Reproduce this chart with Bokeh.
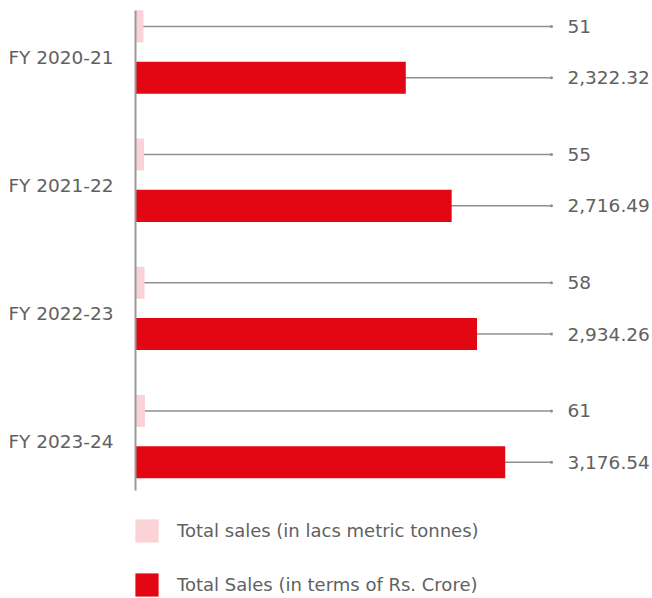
from bokeh.plotting import figure
from bokeh.models import Range1d, FixedTicker, Legend, LegendItem, CustomJSTickFormatter
from bokeh.core.properties import value
from bokeh.embed import file_html
from bokeh.resources import INLINE

years = ["FY 2020-21", "FY 2021-22", "FY 2022-23", "FY 2023-24"]
tonnes = [51, 55, 58, 61]
crore = [2322.32, 2716.49, 2934.26, 3176.54]
tonnes_labels = ["51", "55", "58", "61"]
crore_labels = ["2,322.32", "2,716.49", "2,934.26", "3,176.54"]

PINK = "#f9d3d6"
RED = "#e30613"
GREY = "#8f8f8f"
TEXT = "#616161"
FONT = "DejaVu Sans"

idx = list(range(len(years)))
y_pink = [i - 0.2 for i in idx]
y_red = [i + 0.2 for i in idx]

leader_end = 3574
label_x = 3711

p = figure(width=652, height=598, output_backend="svg", toolbar_location=None,
           x_range=Range1d(0, 4442), y_range=Range1d(4.263, -0.402),
           x_axis_location=None, y_axis_location="left",
           min_border_left=135, min_border_right=0, min_border_top=0, min_border_bottom=0)
p.extra_x_ranges = {"t": Range1d(0, 3335)}
p.xgrid.visible = False
p.ygrid.visible = False
p.outline_line_color = None

# leader lines (drawn under the bars)
p.segment(x0=[0] * len(idx), y0=y_pink, x1=[leader_end] * len(idx), y1=y_pink,
          line_color=GREY, line_width=1.5)
p.segment(x0=[0] * len(idx), y0=y_red, x1=[leader_end] * len(idx), y1=y_red,
          line_color=GREY, line_width=1.5)
p.scatter(x=[leader_end] * (2 * len(idx)), y=y_pink + y_red, size=3,
          fill_color=GREY, line_color=None)

pink_r = p.hbar(y=y_pink, left=0, right=tonnes, height=0.25, x_range_name="t",
                fill_color=PINK, line_color=None)
red_r = p.hbar(y=y_red, left=0, right=crore, height=0.25,
               fill_color=RED, line_color=None)

p.text(x=[label_x] * len(idx), y=y_pink, text=tonnes_labels, text_baseline="middle",
       text_align="left", text_font=value(FONT), text_font_size="18.5px", text_color=TEXT)
p.text(x=[label_x] * len(idx), y=y_red, text=crore_labels, text_baseline="middle",
       text_align="left", text_font=value(FONT), text_font_size="18.5px", text_color=TEXT)

yax = p.yaxis[0]
yax.ticker = FixedTicker(ticks=[i + 0.04 for i in idx])
yax.formatter = CustomJSTickFormatter(args=dict(labels=years),
                                      code="return labels[Math.round(tick)]")
yax.axis_line_color = "#9a9a9a"
yax.axis_line_width = 2
yax.major_tick_line_color = None
yax.minor_tick_line_color = None
yax.major_tick_out = 0
yax.major_tick_in = 0
yax.major_label_standoff = 22
yax.major_label_text_font = FONT
yax.major_label_text_font_size = "18.5px"
yax.major_label_text_color = TEXT
yax.bounds = (-0.325, 3.42)

legend = Legend(items=[LegendItem(label="Total sales (in lacs metric tonnes)", renderers=[pink_r]),
                       LegendItem(label="Total Sales (in terms of Rs. Crore)", renderers=[red_r])],
                location=(-3, -1), glyph_width=29, glyph_height=29, label_height=29,
                label_standoff=16, spacing=25, padding=0, margin=0,
                border_line_alpha=0, background_fill_alpha=0,
                label_text_font=FONT, label_text_font_size="18px", label_text_color=TEXT)
p.add_layout(legend)

open("out.html", "w").write(file_html(p, INLINE))
